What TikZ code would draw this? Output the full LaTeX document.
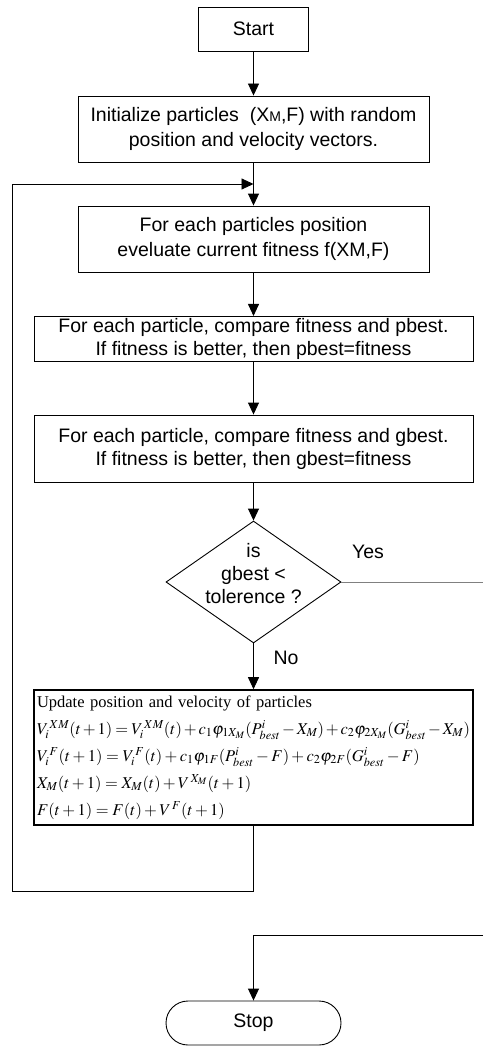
\documentclass[tikz,border=0pt]{standalone}
\usepackage{amsmath}
\usepackage{mathptmx}
\usepackage[no-math]{fontspec}
\setmainfont{Liberation Sans}
\newfontfamily\eqfont{Liberation Serif}
\usetikzlibrary{arrows.meta,shapes.geometric,positioning}

\tikzset{
  box/.style={draw, line width=0.9pt, align=center, inner sep=2pt,
    font=\fontsize{19.5}{23}\selectfont},
  flow/.style={-{Triangle[length=12pt,width=11pt]}, line width=0.9pt},
  lbl/.style={font=\fontsize{19.5}{23}\selectfont},
}

\begin{document}
\begin{tikzpicture}[x=1pt, y=1pt]
  \useasboundingbox (0,0) rectangle (483,-1046);
  % Start and set up
  \node[box, minimum width=110pt, minimum height=44pt] (start) at (253.5,-29) {Start};
  \node[box, minimum width=351pt, minimum height=66pt, font=\fontsize{19.5}{25}\selectfont] (init) at (253.5,-129)
    {Initialize particles\ \ (X{\fontsize{14}{14}\selectfont M},F) with random\\position and velocity vectors.};
  \node[box, minimum width=351pt, minimum height=66pt, font=\fontsize{19.5}{25}\selectfont] (eval) at (253.5,-239)
    {For each particles position\\eveluate current fitness f(XM,F)};
  % Compare with pbest and gbest
  \node[box, minimum width=439pt, minimum height=44pt] (pbest) at (253.5,-339)
    {For each particle, compare fitness and pbest.\\If fitness is better, then pbest=fitness};
  \node[box, minimum width=439pt, minimum height=67pt] (gbest) at (253.5,-448.5)
    {For each particle, compare fitness and gbest.\\If fitness is better, then gbest=fitness};
  % Decision
  \node[draw, diamond, line width=0.9pt, inner sep=0pt, minimum width=175pt, minimum height=122pt] (check) at (253.5,-582) {};
  \node[lbl, align=center, yshift=8pt] (checktext) at (check) {is\\gbest <\\tolerence ?};
  \node[lbl] (yes) at (368,-552) {Yes};
  \node[lbl] (no) at (286,-658) {No};
  % Update step
  \node[draw, line width=1.6pt, minimum width=439pt, minimum height=135pt, text width=433pt,
    inner xsep=3pt, inner ysep=2pt, align=left, font=\eqfont\fontsize{16.5}{27}\selectfont] (update) at (253.5,-757.5)
    {Update position and velocity of particles\\
     $V_i^{\,XM}(t+1) = V_i^{\,XM}(t) + c_1\varphi_{1X_M}(P^i_{best}-X_M) + c_2\varphi_{2X_M}(G^i_{best}-X_M)$\\
     $V_i^{\,F}(t+1) = V_i^{\,F}(t) + c_1\varphi_{1F}(P^i_{best}-F) + c_2\varphi_{2F}(G^i_{best}-F)$\\
     $X_M(t+1) = X_M(t) + V^{\,X_M}(t+1)$\\
     $F(t+1) = F(t) + V^{\,F}(t+1)$};
  % Stop
  \node[box, rounded corners=22pt, minimum width=175pt, minimum height=44pt] (stop) at (253.5,-1023) {Stop};
  % Loop and exit points
  \coordinate (loopbot) at (12,-891.5);
  \coordinate (loopin) at (253.5,-184);
  \coordinate (yesend) at (483,-582);
  \coordinate (stopin) at (483,-935.5);
  % Connectors
  \draw[flow] (start) -- (init);
  \draw[flow] (init) -- (eval);
  \draw[flow] (eval) -- (pbest);
  \draw[flow] (pbest) -- (gbest);
  \draw[flow] (gbest) -- (check);
  \draw[flow] (check) -- (update);
  \draw[flow] (update.south) |- (loopbot) |- (loopin);
  \draw[line width=0.9pt, gray] (check.east) -- (yesend);
  \draw[flow] (stopin) -| (stop.north);
\end{tikzpicture}
\end{document}
